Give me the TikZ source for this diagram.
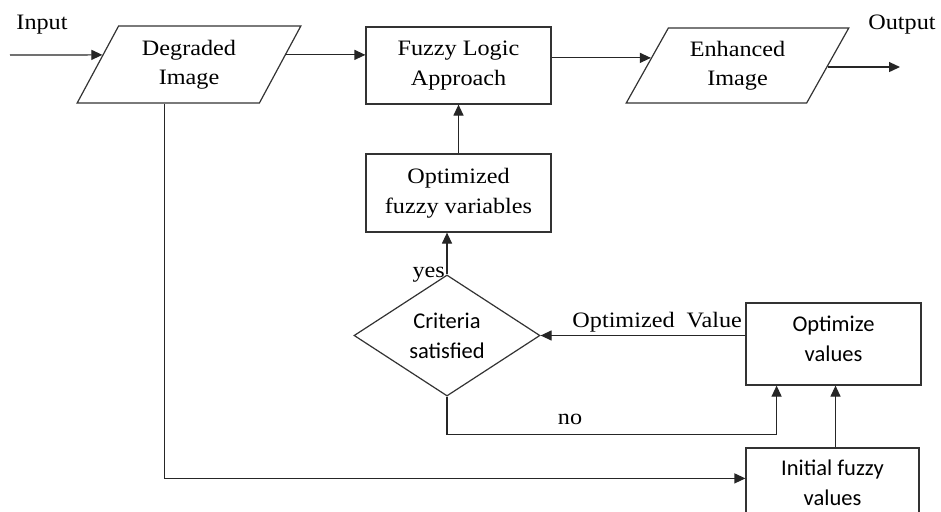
\documentclass[tikz,border=0pt]{standalone}
\usepackage{fontspec}
\setmainfont{Liberation Serif}[FakeStretch=1.1]
\newfontfamily\calib{Carlito}
\usetikzlibrary{shapes.geometric,arrows.meta,calc}

% extra depth below the last line lifts a centred text block
\newcommand{\liftby}[1]{\rule[-#1]{0pt}{0pt}}

\tikzset{
  serif/.style={font=\fontsize{22}{29.5}\selectfont},
  sans/.style={font=\calib\fontsize{22.5}{30}\selectfont},
  box/.style={draw=black!80, line width=1.2pt, rectangle, inner sep=0pt, align=center},
  para/.style={draw=black!80, line width=1.2pt, trapezium, trapezium stretches=true,
    inner sep=0pt, align=center},
  decide/.style={draw=black!80, line width=1.2pt, diamond, inner sep=0pt, align=center,
    minimum width=186pt, minimum height=115pt},
  arr/.style={draw=black!85, line width=1.2pt, -{Triangle[length=11pt,width=10pt]}},
  lbl/.style={inner sep=0pt, anchor=base}
}

\begin{document}
\begin{tikzpicture}[x=1pt,y=-1pt]
\clip (0,0) rectangle (941,511);
\fill[white] (0,0) rectangle (941,511);

% input / output parallelograms
\node[para, serif, minimum width=224pt, minimum height=77pt,
  trapezium left angle=60.8, trapezium right angle=119.2] (deg) at (189,64.5) {Degraded\\Image};
\node[para, serif, minimum width=223pt, minimum height=75pt,
  trapezium left angle=59.6, trapezium right angle=120.4] (enh) at (737.5,65.5) {Enhanced\\Image};

% process boxes
\node[box, serif, minimum width=185pt, minimum height=77pt] (fz) at (458.5,65.5) {Fuzzy Logic\\Approach};
\node[box, serif, minimum width=185pt, minimum height=78pt] (ofv) at (458.5,193) {Optimized\\fuzzy variables};
\node[decide, sans] (cs) at (447,335.5) {Criteria\\satisfied};
\node[box, sans, minimum width=175pt, minimum height=82pt] (ov) at (833.5,344) {Optimize\\values\liftby{11pt}};
\node[box, sans, minimum width=173pt, minimum height=82pt] (ifv) at (832.5,489) {Initial fuzzy\\values\liftby{12pt}};

% free labels
\node[lbl, serif] (tin) at (42,30) {Input};
\node[lbl, serif] (tout) at (902,30) {Output};
\node[lbl, serif, anchor=base east] (tyes) at (445,277) {yes};
\node[lbl, serif] (tno) at (570,424) {no};
\node[lbl, serif, anchor=base east] (tval) at (742,327) {Optimized\ \ Value};

% connectors
\coordinate (inA) at (10,55);
\coordinate (outB) at (900,67);
\draw[arr] (inA) -- ($(deg.top left corner)!0.377!(deg.bottom left corner)$);
\draw[arr] ($(deg.top right corner)!0.377!(deg.bottom right corner)$) coordinate (d2) -- (d2 -| fz.west);
\coordinate (e1) at ($(enh.top left corner)!0.4!(enh.bottom left corner)$);
\draw[arr] (fz.east |- e1) -- (e1);
\coordinate (e2) at ($(enh.top right corner)!0.52!(enh.bottom right corner)$);
\draw[arr] (e2) -- (e2 -| outB);
\draw[arr] (ofv.north) -- (fz.south);
\draw[arr] (cs.north) -- (cs.north |- ofv.south);
\draw[arr] (cs.east -| ov.west) -- (cs.east);
\draw[arr] (cs.south) -- ++(0,38) -| ($(ov.south west)!0.177!(ov.south east)$);
\draw[arr] ([xshift=3pt]ifv.north) -- ([xshift=3pt]ifv.north |- ov.south);
\draw[arr] ($(deg.bottom left corner)!0.483!(deg.bottom right corner)$) |- ($(ifv.north west)+(0,31)$);
\end{tikzpicture}
\end{document}
